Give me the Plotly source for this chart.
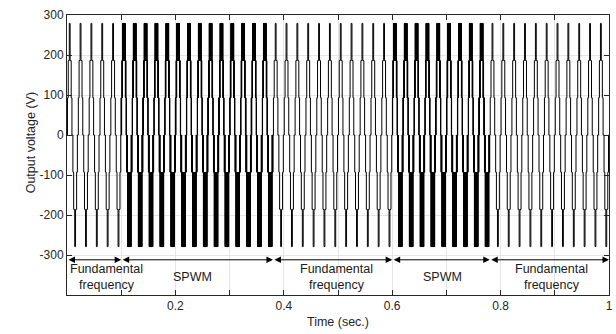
import numpy as np
import plotly.graph_objects as go

# ---- data / parameters ----
f0 = 50.0                          # fundamental frequency (Hz)
step_voltages = [93, 186, 279]     # output voltage levels (V)
switch_angles_deg = [16, 41, 76]   # staircase switching angles (deg)
carrier_freq = 2000.0              # SPWM carrier frequency (Hz)
# carrier bands: (reference low, reference high, output low level, output high level)
pwm_bands = [(0, 1, 0, 1), (1, 2, 1, 2), (2, 3, 2, 3),
             (-1.55, 0, -1, 0), (-3, -1.55, -3, -1)]
mode_starts = [0.0, 0.1, 0.38, 0.6, 0.78]
mode_ends = [0.1, 0.38, 0.6, 0.78, 1.0]
mode_types = ["fund", "spwm", "fund", "spwm", "fund"]
mode_labels = ["Fundamental<br>frequency", "SPWM", "Fundamental<br>frequency", "SPWM", "Fundamental<br>frequency"]
label_x = [0.072, 0.232, 0.497, 0.692, 0.893]
y_ticks = [-300, -200, -100, 0, 100, 200, 300]
y_ticktext = ["-300", "-200", "-100", "0", "100", "200", "300"]
x_ticks = [0.1, 0.2, 0.3, 0.4, 0.5, 0.6, 0.7, 0.8, 0.9, 1.0]
x_ticktext = ["", "0.2", "", "0.4", "", "0.6", "", "0.8", "", "1"]

# ---- build waveform ----
dt = 1e-5
t = np.arange(0, 1.0 + dt / 2, dt)
theta = (2 * np.pi * f0 * t) % (2 * np.pi)
alphas = np.radians(switch_angles_deg)
# staircase
stair = np.zeros_like(t)
pos = theta < np.pi
ang = np.where(pos, theta, theta - np.pi)
for a in alphas:
    on = (ang >= a) & (ang <= np.pi - a)
    stair += np.where(on, np.where(pos, 1, -1), 0)
# carrier-based multilevel SPWM
nlev = len(step_voltages)
ref = nlev * np.sin(2 * np.pi * f0 * t)
ph = (t * carrier_freq) % 1.0
tri = 1 - 2 * np.abs(ph - 0.5)
pwm = np.zeros_like(t)
for rlo, rhi, olo, ohi in pwm_bands:
    inb = (ref >= rlo) & (ref < rhi)
    pwm[inb] = np.where(ref[inb] > rlo + (rhi - rlo) * tri[inb], ohi, olo)
pwm[ref >= nlev] = nlev
lev = np.zeros_like(t)
for s, e, m in zip(mode_starts, mode_ends, mode_types):
    sel = (t >= s) & (t < e) if e < 1.0 else (t >= s)
    lev[sel] = stair[sel] if m == "fund" else pwm[sel]
volt_map = np.array([-v for v in step_voltages[::-1]] + [0] + step_voltages)
v = volt_map[np.round(lev + nlev).astype(int)]
chg = np.nonzero(np.diff(v))[0] + 1
idx = np.concatenate(([0], chg, [len(t) - 1]))
tx = t[idx]
vy = v[idx]

fig = go.Figure()
fig.add_trace(go.Scatter(x=tx, y=vy, mode="lines", line=dict(color="black", width=1, shape="hv"),
                         showlegend=False, hoverinfo="skip"))

fam = "Liberation Sans, Arial, sans-serif"
ann = []
arrow_y = -312
for s, e in zip(mode_starts, mode_ends):
    ann.append(dict(x=e, y=arrow_y, ax=s, ay=arrow_y, xref="x", yref="y", axref="x", ayref="y",
                    text="", showarrow=True, arrowside="end+start", arrowhead=2, arrowsize=1.3,
                    arrowwidth=1, arrowcolor="black", standoff=0, startstandoff=0))
for lx, lab in zip(label_x, mode_labels):
    ann.append(dict(x=lx, y=-356, xref="x", yref="y", text=lab, showarrow=False,
                    font=dict(family=fam, size=12.5, color="#1a1a1a"), align="center"))
pw = 616 - 67 - 3
ph_ = 334 - 15 - 39
ann.append(dict(x=(22 - 67) / pw, y=1 - (143 - 15) / ph_, xref="paper", yref="paper",
                text="Output voltage (V)", showarrow=False,
                textangle=-90, font=dict(family=fam, size=12.5, color="#262626")))

fig.update_layout(
    width=616, height=334,
    margin=dict(l=67, r=3, t=15, b=39),
    paper_bgcolor="white", plot_bgcolor="white",
    font=dict(family=fam, size=12, color="#262626"),
    annotations=ann,
    xaxis=dict(range=[0, 1], tickvals=x_ticks, ticktext=x_ticktext, ticks="inside", ticklen=5,
               tickcolor="#262626", showline=True, linecolor="#262626", linewidth=1, mirror="ticks",
               showgrid=True, gridcolor="#e6e6e6", gridwidth=1, zeroline=False,
               ticklabeloverflow="allow",
               title=dict(text="Time (sec.)", standoff=4, font=dict(size=12.5))),
    yaxis=dict(range=[-400, 300], tickvals=y_ticks, ticktext=y_ticktext, ticks="inside", ticklen=5,
               tickcolor="#262626", showline=True, linecolor="#262626", linewidth=1, mirror="ticks",
               showgrid=True, gridcolor="#e6e6e6", gridwidth=1, zeroline=False),
)
fig.write_html("out.html")
